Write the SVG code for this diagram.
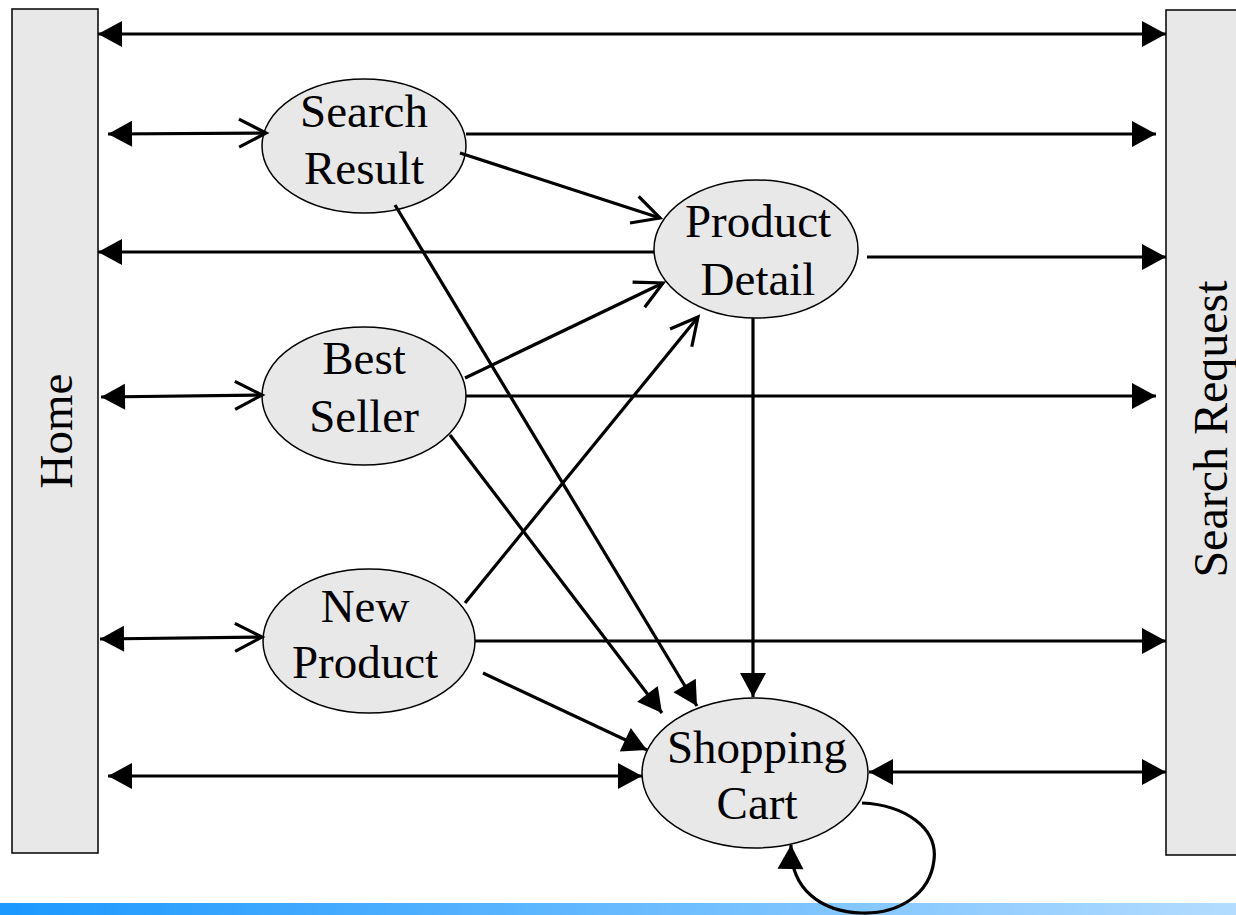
<svg xmlns="http://www.w3.org/2000/svg" width="1236" height="915" viewBox="0 0 1236 915">
<defs>
<linearGradient id="bar" x1="0" y1="0" x2="1" y2="0">
<stop offset="0" stop-color="#1a98ff"/>
<stop offset="1" stop-color="#b3dcff"/>
</linearGradient>
<marker id="fa" markerUnits="userSpaceOnUse" markerWidth="26" markerHeight="28" refX="24" refY="13" orient="auto-start-reverse" overflow="visible">
<path d="M0,0 L24,13 L0,26 z" fill="#000"/>
</marker>
<marker id="oa" markerUnits="userSpaceOnUse" markerWidth="30" markerHeight="30" refX="27" refY="14" orient="auto" overflow="visible">
<path d="M0,0 L27,14 L0,28" fill="none" stroke="#000" stroke-width="3.2"/>
</marker>
</defs>
<style>
.box{fill:#e8e8e8;stroke:#000;stroke-width:1.5}
.node{fill:#e8e8e8;stroke:#000;stroke-width:1.5}
.t{font-family:"Liberation Serif","Times New Roman",serif;font-size:47px;fill:#000;text-anchor:middle}
.e{fill:none;stroke:#000;stroke-width:3.2}
</style>
<rect x="0" y="903" width="1236" height="12" fill="url(#bar)"/>
<g id="home">
<rect class="box" x="12" y="9" width="86" height="844"/>
<text class="t" transform="translate(72,431) rotate(-90)">Home</text>
</g>
<g id="search-request">
<rect class="box" x="1166" y="10" width="80" height="845"/>
<text class="t" style="font-size:48px" transform="translate(1227,429) rotate(-90)">Search Request</text>
</g>
<g id="search-result">
<ellipse class="node" cx="364" cy="146" rx="102" ry="67"/>
<text class="t" x="364" y="127">Search</text>
<text class="t" x="364" y="184">Result</text>
</g>
<g id="product-detail">
<ellipse class="node" cx="756" cy="249" rx="102" ry="69"/>
<text class="t" x="758" y="237">Product</text>
<text class="t" x="758" y="295">Detail</text>
</g>
<g id="best-seller">
<ellipse class="node" cx="364" cy="396" rx="102" ry="69"/>
<text class="t" x="364" y="374">Best</text>
<text class="t" x="364" y="432">Seller</text>
</g>
<g id="new-product">
<ellipse class="node" cx="369" cy="641" rx="106" ry="72"/>
<text class="t" x="365" y="622">New</text>
<text class="t" x="365" y="678">Product</text>
</g>
<g id="shopping-cart">
<ellipse class="node" cx="755" cy="773" rx="113" ry="75"/>
<text class="t" x="757" y="763">Shopping</text>
<text class="t" x="757" y="819">Cart</text>
</g>
<g id="connectors">
<path class="e" d="M98,34 L1166,34" marker-start="url(#fa)" marker-end="url(#fa)"/>
<path class="e" d="M108,134 L266,133" marker-start="url(#fa)" marker-end="url(#oa)"/>
<path class="e" d="M466,134 L1156,134" marker-end="url(#fa)"/>
<path class="e" d="M460,153 L660,218" marker-end="url(#oa)"/>
<path class="e" d="M395,205 L697,706" marker-end="url(#fa)"/>
<path class="e" d="M654,252 L98,252" marker-end="url(#fa)"/>
<path class="e" d="M867,257 L1166,257" marker-end="url(#fa)"/>
<path class="e" d="M753,318 L753,697" marker-end="url(#fa)"/>
<path class="e" d="M101,397 L262,395" marker-start="url(#fa)" marker-end="url(#oa)"/>
<path class="e" d="M465,378 L663,283" marker-end="url(#oa)"/>
<path class="e" d="M466,396 L1156,396" marker-end="url(#fa)"/>
<path class="e" d="M450,435 L662,713" marker-end="url(#fa)"/>
<path class="e" d="M465,603 L698,317" marker-end="url(#oa)"/>
<path class="e" d="M100,639 L262,637" marker-start="url(#fa)" marker-end="url(#oa)"/>
<path class="e" d="M475,641 L1166,641" marker-end="url(#fa)"/>
<path class="e" d="M483,673 L647,750" marker-end="url(#fa)"/>
<path class="e" d="M108,776 L642,776" marker-start="url(#fa)" marker-end="url(#fa)"/>
<path class="e" d="M869,772 L1166,772" marker-start="url(#fa)" marker-end="url(#fa)"/>
<path class="e" d="M862,803 C905,805 938,828 934,860 C930,895 898,914 862,913 C822,912 790,890 791,845" marker-end="url(#fa)"/>
</g>
</svg>
